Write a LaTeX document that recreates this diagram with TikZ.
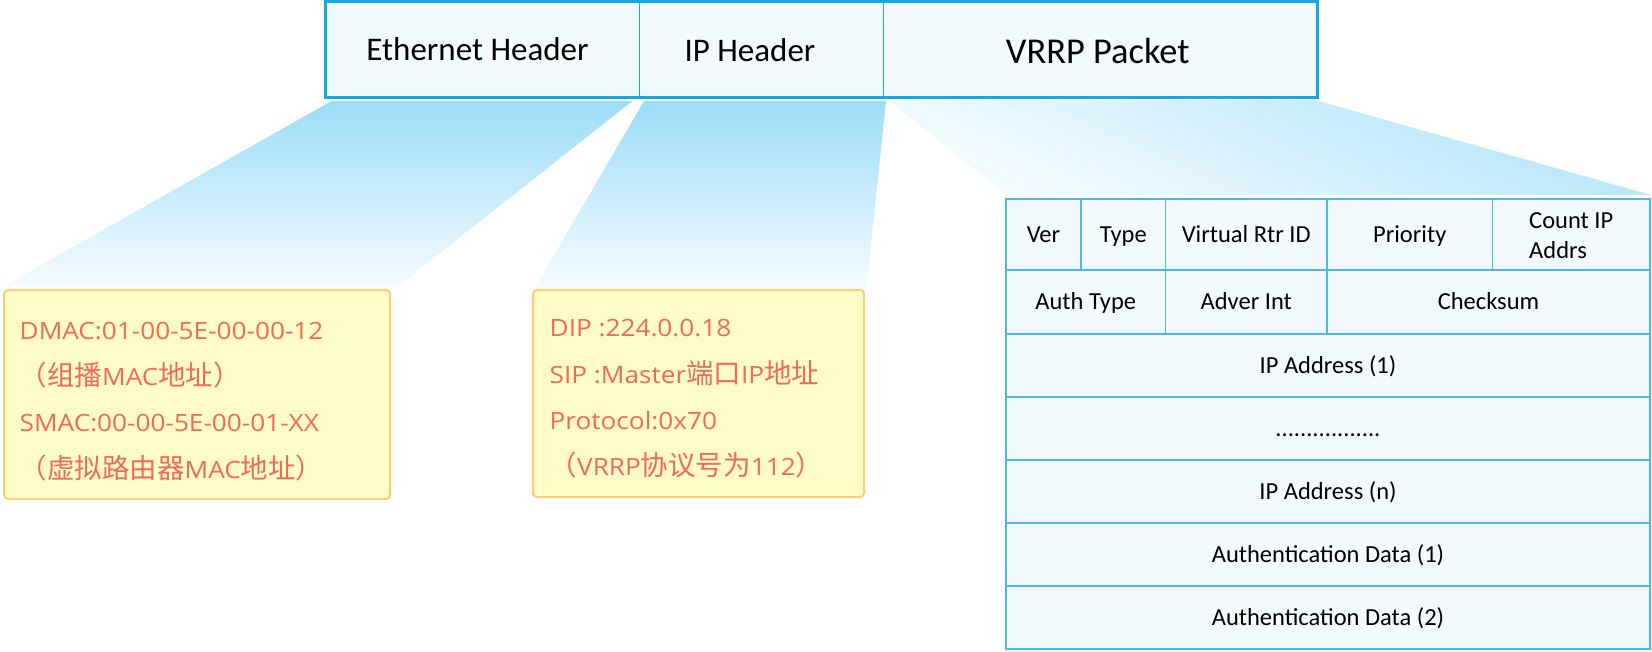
\documentclass[tikz,border=0pt]{standalone}
\usepackage{fontspec}
\setmainfont{Carlito}
\newfontfamily\cjk[Scale=1.155]{Noto Sans CJK SC}
\newfontfamily\lat[FakeStretch=1.10]{Open Sans}
\definecolor{barline}{HTML}{1AA7DF}
\definecolor{tline}{HTML}{4DB8E8}
\definecolor{cellfill}{HTML}{F2FAFE}
\definecolor{fanTop}{HTML}{9BDDF7}
\definecolor{fanTopL}{HTML}{B3E5F9}
\definecolor{fanBot}{HTML}{F6FCFF}
\definecolor{yfill}{HTML}{FFFDC7}
\definecolor{yline}{HTML}{FFCD7A}
\definecolor{rtext}{HTML}{EE6A5A}
\tikzset{
  barcell/.style={draw=barline, line width=1.2pt, fill=cellfill, inner sep=0pt},
  bartext/.style={inner sep=0pt, anchor=base, text=black},
  tcell/.style={draw=tline, line width=1.3pt, fill=cellfill, inner sep=0pt,
    font=\fontsize{24.5}{30}\selectfont, text height=20.6pt, text depth=4.9pt},
  tlabel/.style={inner sep=0pt, anchor=base west, font=\fontsize{24.5}{30}\selectfont},
  ybox/.style={draw=yline, line width=2pt, fill=yfill, rounded corners=4pt, inner sep=0pt},
  yline/.style={inner sep=0pt, anchor=base west, text=rtext,
    font=\fontsize{23.8}{30}\selectfont\lat},
  fan/.style={top color=fanTop, bottom color=fanBot},
}
\begin{document}
\begin{tikzpicture}[x=1pt,y=-1pt]
\useasboundingbox (0,0) rectangle (1652,651);
% fans
\shade[fan] (331.6,101) -- (632.5,101) -- (397,287) -- (2,287) -- cycle;
\shade[fan] (644,101) -- (886,101) -- (866.5,288) -- (535,288) -- cycle;
\shade[top color=fanTopL, bottom color=fanBot, shading angle=-25] (888,100) -- (1315,100) -- (1651,195) -- (1006,195) -- cycle;
% top bar
\node[barcell, minimum width=313.6pt, minimum height=95pt] (eth) at (482.8,49.5) {};
\node[barcell, minimum width=243.8pt, minimum height=95pt] (ip) at (761.5,49.5) {};
\node[barcell, minimum width=433.2pt, minimum height=95pt] (vrrp) at (1100,49.5) {};
\draw[barline, line width=3pt] (eth.north west) rectangle (vrrp.south east);
\node[bartext, font=\fontsize{33}{40}\selectfont] (ethT) at (477.5,60) {Ethernet Header};
\node[bartext, font=\fontsize{33}{40}\selectfont] (ipT) at (750,61.5) {IP Header};
\node[bartext, font=\fontsize{36.4}{44}\selectfont] (vrrpT) at (1097.7,63.3) {VRRP Packet};
% yellow boxes
\node[ybox, minimum width=386pt, minimum height=209pt] (mac) at (197,394.5) {};
\node[yline] (mac1) at (19.5,339) {DMAC:01-00-5E-00-00-12};
\node[yline] (mac2) at (19.5,385.3) {{\cjk （组播}MAC{\cjk 地址）}};
\node[yline] (mac3) at (19.5,431.7) {SMAC:00-00-5E-00-01-XX};
\node[yline] (mac4) at (19.5,478) {{\cjk （虚拟路由器}MAC{\cjk 地址）}};
\node[ybox, minimum width=331pt, minimum height=207pt] (ipinfo) at (698.5,393.5) {};
\node[yline] (ip1t) at (549.5,336.7) {DIP :224.0.0.18};
\node[yline] (ip2t) at (549.5,383) {SIP :Master{\cjk 端口}IP{\cjk 地址}};
\node[yline] (ip3t) at (549.5,429.3) {Protocol:0x70};
\node[yline] (ip4t) at (549.5,475.6) {{\cjk （}VRRP{\cjk 协议号为}112{\cjk ）}};
% VRRP table
\node[tcell, minimum width=75pt, minimum height=71pt] (ver) at (1043.5,234.5) {Ver};
\node[tcell, minimum width=84.5pt, minimum height=71pt] (type) at (1123.25,234.5) {Type};
\node[tcell, minimum width=161.5pt, minimum height=71pt] (vrid) at (1246.25,234.5) {Virtual Rtr ID};
\node[tcell, minimum width=165.5pt, minimum height=71pt] (prio) at (1409.75,234.5) {Priority};
\node[tcell, minimum width=157.5pt, minimum height=71pt] (count) at (1571.25,234.5) {};
\node[tlabel] (countA) at (1529,228.3) {Count IP};
\node[tlabel] (countB) at (1529,258.3) {Addrs};
\node[tcell, minimum width=159.5pt, minimum height=64pt] (auth) at (1085.75,302) {Auth Type};
\node[tcell, minimum width=161.5pt, minimum height=64pt] (adv) at (1246.25,302) {Adver Int};
\node[tcell, minimum width=323pt, minimum height=64pt] (csum) at (1488.5,302) {Checksum};
\node[tcell, minimum width=644pt, minimum height=63pt] (ip1) at (1328,365.5) {IP Address (1)};
\node[tcell, minimum width=644pt, minimum height=63pt] (dots) at (1328,428.5) {.................};
\node[tcell, minimum width=644pt, minimum height=63pt] (ipn) at (1328,491.5) {IP Address (n)};
\node[tcell, minimum width=644pt, minimum height=63pt] (ad1) at (1328,554.5) {Authentication Data (1)};
\node[tcell, minimum width=644pt, minimum height=63pt] (ad2) at (1328,617.5) {Authentication Data (2)};
\end{tikzpicture}
\end{document}
